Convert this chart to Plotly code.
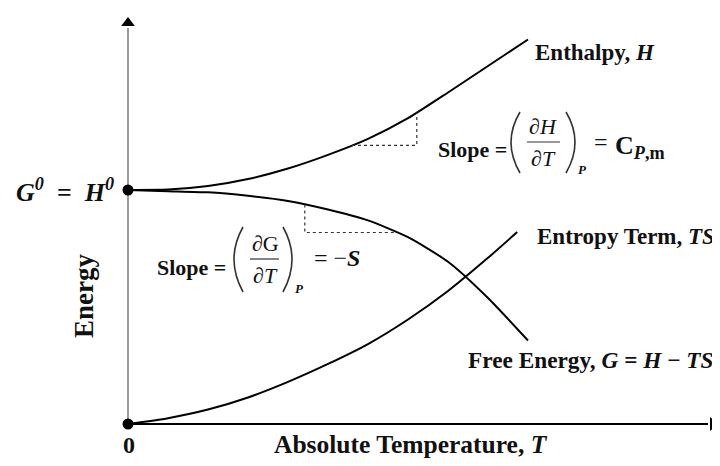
import numpy as np
import plotly.graph_objects as go

# ---------------- data (arbitrary units) ----------------
T = [0, 1, 2, 3, 4, 5, 6, 7, 8, 9, 10]
H = [6.00, 6.01, 6.10, 6.28, 6.55, 6.90, 7.31, 7.84, 8.50, 9.18, 9.86]
G = [6.00, 5.97, 5.94, 5.85, 5.72, 5.50, 5.22, 4.79, 4.16, 3.23, 2.14]
T_TS = [0, 1, 2, 3, 4, 5, 6, 7, 8, 9, 9.73]
TS = [0.00, 0.15, 0.37, 0.68, 1.08, 1.54, 2.05, 2.68, 3.41, 4.26, 4.92]

SLOPE_H_T = [5.6, 7.22]   # temperatures spanned by the enthalpy slope triangle
SLOPE_G_T = [4.42, 6.72]  # temperatures spanned by the free-energy slope triangle

# page body has an 8px margin: reference pixel (px, py) -> figure pixel (px-8, py-8)
OFF = 8
W, Hh = 720, 466
XS, YS = 40.0, 39.0             # pixels per data unit
X0PX, Y0PX = 128 - OFF, 424 - OFF  # pixel position of the origin in the figure
X_RANGE = [-X0PX / XS, (W - X0PX) / XS]
Y_RANGE = [(Y0PX - Hh) / YS, Y0PX / YS]
X_AXIS_END = (708 - 128) / XS
Y_AXIS_END = (424 - 28) / YS
X_ARROW = (713 - 128) / XS
Y_ARROW = (424 - 23) / YS

FONT = "Liberation Serif"
INK = "#111111"


def P(px, py):
    return (px - OFF) / W, 1 - (py - OFF) / Hh


fig = go.Figure()

line_style = dict(color="black", width=2, shape="spline", smoothing=0.6)
fig.add_trace(go.Scatter(x=T, y=H, mode="lines", line=line_style, hoverinfo="skip"))
fig.add_trace(go.Scatter(x=T, y=G, mode="lines", line=line_style, hoverinfo="skip"))
fig.add_trace(go.Scatter(x=T_TS, y=TS, mode="lines", line=line_style, hoverinfo="skip"))

# slope triangles derived from curves
h1, h2 = np.interp(SLOPE_H_T, T, H)
fig.add_trace(go.Scatter(
    x=[SLOPE_H_T[0], SLOPE_H_T[1], SLOPE_H_T[1]], y=[h1, h1, h2],
    mode="lines", line=dict(color="#333333", width=1.2, dash="dot"), hoverinfo="skip"))
g1, g2 = np.interp(SLOPE_G_T, T, G)
fig.add_trace(go.Scatter(
    x=[SLOPE_G_T[0], SLOPE_G_T[0], SLOPE_G_T[1]], y=[g1, g2, g2],
    mode="lines", line=dict(color="#333333", width=1.2, dash="dot"), hoverinfo="skip"))

# axes drawn as lines with arrowheads
fig.add_shape(type="line", x0=0, y0=0, x1=0, y1=Y_AXIS_END, xref="x", yref="y",
              line=dict(color="#9a9a9a", width=2), layer="below")
fig.add_shape(type="line", x0=0, y0=0, x1=X_AXIS_END, y1=0, xref="x", yref="y",
              line=dict(color="black", width=2), layer="below")
fig.add_trace(go.Scatter(x=[0], y=[Y_ARROW], mode="markers",
                         marker=dict(symbol="triangle-up", size=12, color="black"),
                         cliponaxis=False, hoverinfo="skip"))
fig.add_trace(go.Scatter(x=[X_ARROW], y=[0], mode="markers",
                         marker=dict(symbol="triangle-right", size=12, color="black"),
                         cliponaxis=False, hoverinfo="skip"))

# end dots
fig.add_trace(go.Scatter(x=[T[0], T_TS[0]], y=[H[0], TS[0]], mode="markers",
                         marker=dict(color="black", size=11), cliponaxis=False,
                         hoverinfo="skip"))

annotations = []


def txt(px, py, text, size=22, xanchor="left", bold=True, color=INK, textangle=0):
    x, y = P(px, py)
    annotations.append(dict(
        x=x, y=y, xref="paper", yref="paper", text=text, showarrow=False,
        xanchor=xanchor, yanchor="middle", textangle=textangle,
        font=dict(family=FONT, size=size, color=color,
                  weight="bold" if bold else "normal")))


# axis labels
txt(129, 445, "0", size=24, xanchor="center")
txt(411, 444, "Absolute Temperature, <i>T</i>", size=25.5, xanchor="center")
txt(84, 296, "Energy", size=27, xanchor="center", textangle=-90)
txt(65, 190, "<i>G</i><sup><i>0</i></sup>\u00a0 =\u00a0 <i>H</i><sup><i>0</i></sup>",
    size=26, xanchor="center")

# curve labels
txt(533, 53, "Enthalpy, <i>H</i>", size=23)
txt(535, 236, "Entropy Term, <i>TS</i>", size=23)
txt(466, 360, "Free Energy, <i>G</i> = <i>H</i> \u2212 <i>TS</i>", size=23.3)

# slope of H
txt(436, 150, "Slope =", size=22)
txt(543, 127, "\u2202<i>H</i>", size=22, xanchor="center", bold=False)
txt(543, 158, "\u2202<i>T</i>", size=22, xanchor="center", bold=False)
txt(582, 169, "<i>P</i>", size=13, xanchor="center")
txt(592, 142, "=", size=24, bold=False)
txt(613, 147, "C<sub><i>P</i>,m</sub>", size=26)

# slope of G
txt(155, 267, "Slope =", size=22)
txt(265, 243, "\u2202G", size=22, xanchor="center", bold=False)
txt(265, 275, "\u2202<i>T</i>", size=22, xanchor="center", bold=False)
txt(299, 288, "<i>P</i>", size=13, xanchor="center")
txt(312, 258, "= \u2212<b><i>S</i></b>", size=24, bold=False)

# fraction bars
for (xa, xb, py) in [(527, 560, 142), (250, 279, 259)]:
    x0, y0 = P(xa, py)
    x1, _ = P(xb, py)
    fig.add_shape(type="line", x0=x0, x1=x1, y0=y0, y1=y0, xref="paper", yref="paper",
                  line=dict(color="#333333", width=1.2))

# thin parentheses as curves
parens = [
    ((520, 112), (502, 142), (520, 173)),
    ((566, 112), (584, 142), (566, 173)),
    ((243, 227), (225, 259), (243, 292)),
    ((283, 227), (301, 259), (283, 292)),
]
for a, c, b in parens:
    ax_, ay_ = P(*a)
    cx_, cy_ = P(*c)
    bx_, by_ = P(*b)
    fig.add_shape(type="path", xref="paper", yref="paper",
                  path=f"M {ax_},{ay_} Q {cx_},{cy_} {bx_},{by_}",
                  line=dict(color="#333333", width=1.6))

fig.update_layout(
    width=W, height=Hh, autosize=False,
    margin=dict(l=0, r=0, t=0, b=0),
    paper_bgcolor="white", plot_bgcolor="white",
    showlegend=False,
    xaxis=dict(range=X_RANGE, visible=False, fixedrange=True),
    yaxis=dict(range=Y_RANGE, visible=False, fixedrange=True),
    annotations=annotations,
)

fig.write_html("out.html")
